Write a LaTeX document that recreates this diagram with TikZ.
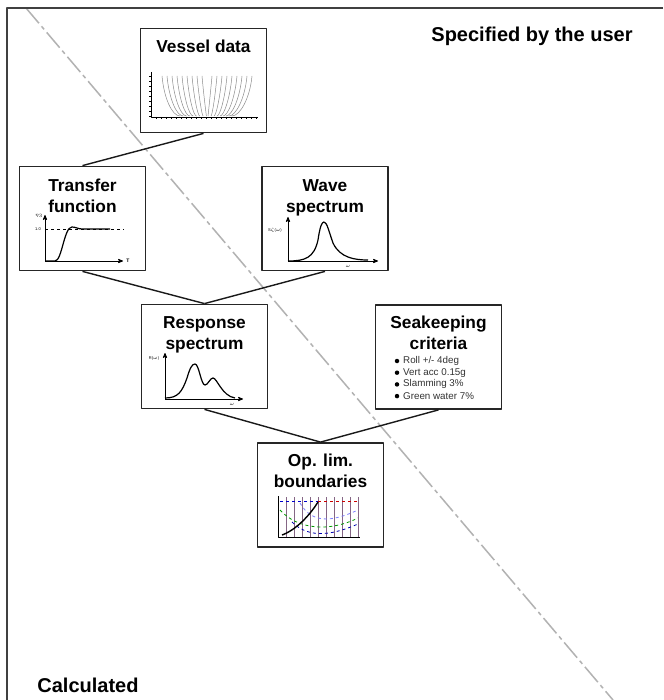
\documentclass[tikz,border=0pt]{standalone}
\usepackage{fontspec}
\setmainfont{Liberation Sans}
\usepackage{amsmath,amssymb}
\usetikzlibrary{arrows}

\begin{document}
\begin{tikzpicture}[x=1pt,y=-1pt,>=stealth',line join=round]

  \tikzstyle{frame}=[draw=black!75,line width=2pt]
  \tikzstyle{divider}=[draw=black!30,line width=1.5pt,dash pattern=on 20pt off 4pt on 4pt off 4pt]
  \tikzstyle{box}=[rectangle,draw=black!85,line width=1.8pt,fill=white,minimum width=126pt,minimum height=104pt,inner sep=0pt]
  \tikzstyle{title}=[align=center,font=\fontsize{17.3}{21}\selectfont\bfseries,inner sep=0pt]
  \tikzstyle{corner}=[font=\fontsize{20}{24}\selectfont\bfseries,inner sep=0pt]
  \tikzstyle{link}=[draw=black!90,line width=1.4pt]
  \tikzstyle{axis}=[->,line width=0.8pt]
  \tikzstyle{curve}=[line width=1.2pt]
  \tikzstyle{hull}=[draw=black!45,line width=0.5pt]
  \tikzstyle{tiny}=[font=\fontsize{4}{5}\selectfont,inner sep=0pt]
  \tikzstyle{crit}=[font=\fontsize{9.8}{12}\selectfont,text=black!80,inner sep=0pt,anchor=west]

  \path[fill=white,use as bounding box] (0,0) rectangle (663,700);

  % split between user input and calculated part
  \coordinate (divtop) at (26,8);
  \coordinate (divbot) at (613,700);
  \draw[divider] (divtop) -- (divbot);
  \draw[frame] (663,8) -- (7,8) -- (7,700);

  \node[corner] (user) at (532,36) {Specified by the user};
  \node[corner] (calc) at (88,685) {Calculated};

  % boxes
  \node[box] (vessel)   at (203.5,80.5) {};
  \node[box] (transfer) at (82.5,218.5) {};
  \node[box] (wave)     at (325,218.5)  {};
  \node[box] (response) at (204.5,356.5) {};
  \node[box] (criteria) at (438.5,357)  {};
  \node[box] (oplim)    at (320.5,495)  {};

  \draw[link] (vessel.south)   -- (transfer.north);
  \draw[link] (transfer.south) -- (response.north);
  \draw[link] (wave.south)     -- (response.north);
  \draw[link] (response.south) -- (oplim.north);
  \draw[link] (criteria.south) -- (oplim.north);

  \node[title] (vesseltitle)   at (203.5,46.7) {Vessel data};
  \node[title] (transfertitle) at (82.5,196)   {Transfer\\function};
  \node[title] (wavetitle)     at (325,198)    {Wave\\spectrum};
  \node[title] (responsetitle) at (204.5,335)  {Response\\spectrum};
  \node[title] (criteriatitle) at (438.5,333)  {Seakeeping\\criteria};
  \node[title] (oplimtitle)    at (320.5,471)  {Op. lim.\\boundaries};

  % vessel body plan
  \draw[line width=0.5pt] (151,72) -- (151,117) -- (258,117);
  \foreach \y in {76,81,...,116} \draw[line width=0.4pt] (149,\y) -- (151,\y);
  \foreach \x in {156,161,...,256} \draw[line width=0.4pt] (\x,117) -- (\x,119);
  \foreach \k in {0,...,8} {
    \draw[hull] (162+5*\k,76) .. controls (164+5*\k,98) and (172+4.3*\k,116) .. (180+3.3*\k,116);
    \draw[hull] (252-5*\k,76) .. controls (250-5*\k,98) and (240-4*\k,116) .. (232-3*\k,116);
  }

  % transfer function
  \draw[axis] (45,261) -- (45,215);
  \draw[axis] (45,261) -- (123,261);
  \node[tiny,font=\fontsize{5}{6}\selectfont\bfseries] (tflabT) at (128,261) {T};
  \node[tiny] (tflab1) at (38,229) {1.0};
  \node[tiny] (tflaby) at (39,216) {$\eta_3$};
  \draw[dashed,line width=0.8pt] (45,229) -- (124,229);
  \draw[curve] (45,261) -- (55,261) .. controls (62,261) and (64,227) .. (72,227)
               .. controls (76,227) and (78,229) .. (82,229) -- (110,229);

  % wave spectrum
  \draw[axis] (288,261) -- (288,217);
  \draw[axis] (288,261) -- (378,261);
  \node[tiny] (wavey) at (275,230) {S$\zeta$($\omega$)};
  \node[tiny] (wavex) at (348,266) {$\omega$};
  \draw[curve] (288,261) .. controls (305,261) and (314,258) .. (318,240)
               .. controls (320,226) and (322,222) .. (324,222)
               .. controls (327,222) and (329,232) .. (333,243)
               .. controls (340,258) and (355,260) .. (368,260);

  % response spectrum
  \draw[axis] (165,399) -- (165,353);
  \draw[axis] (165,399) -- (243,399);
  \node[tiny] (respy) at (154,358) {R($\omega$)};
  \node[tiny] (respx) at (232,404) {$\omega$};
  \draw[curve] (165,398) .. controls (178,398) and (182,392) .. (187,378)
               .. controls (190,368) and (192,364) .. (195,364)
               .. controls (199,364) and (201,385) .. (205,385)
               .. controls (208,385) and (210,378) .. (213,378)
               .. controls (217,378) and (222,396) .. (235,398);

  % criteria list
  \foreach \txt [count=\i from 0] in {Roll +/- 4deg,Vert acc 0.15g,Slamming 3\%,Green water 7\%} {
    \node[circle,fill=black,inner sep=0pt,minimum size=4.5pt] (critdot\i) at (397,361+11.7*\i) {};
    \node[crit] (crititem\i) at (403,361+11.7*\i) {\txt};
  }

  % operational limits plot
  \draw[line width=0.4pt] (278,496) -- (278,537) -- (360,537);
  \foreach \x in {286,294,...,358} \draw[violet!40!black!60,line width=0.5pt] (\x,497) -- (\x,537);
  \draw[blue!80!black,dashed,line width=0.8pt] (280,501) -- (318,501);
  \draw[red!80!black,dashed,line width=0.8pt] (318,501) -- (358,501);
  \draw[blue!50,dashed,line width=0.8pt] (300,503) .. controls (312,524) and (332,522) .. (358,510);
  \draw[green!60!black,dashed,line width=0.8pt] (280,510) .. controls (298,530) and (330,532) .. (358,518);
  \draw[blue!70!black,dashed,line width=0.8pt] (292,522) .. controls (310,540) and (335,534) .. (358,524);
  \draw[line width=1.4pt] (282,535) .. controls (296,530) and (310,515) .. (318,502);

\end{tikzpicture}
\end{document}
